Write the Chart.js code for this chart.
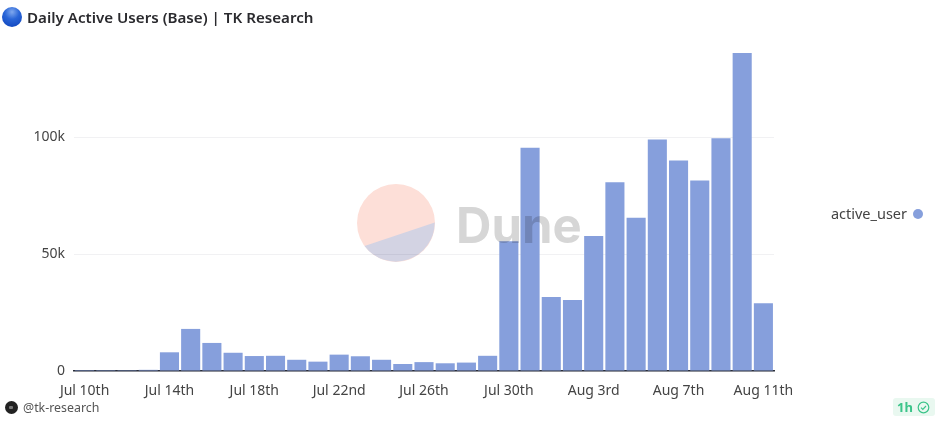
<!DOCTYPE html>
<html>
<head>
<meta charset="utf-8">
<script src="https://cdn.jsdelivr.net/npm/chart.js@4"></script>
<style>
  html,body{ margin:0; padding:0; background:#fff; }
  body{ width:942px; height:421px; overflow:hidden; position:relative; font-family:'Noto Sans',sans-serif; color:#333; }
  #wrap{ position:absolute; left:0; top:0; width:942px; height:421px; }
  #title{ position:absolute; left:27px; top:7px; font-size:15.15px; font-weight:600; color:#2a2a2e; white-space:nowrap; }
  #globe{ position:absolute; left:2px; top:7px; width:20px; height:20px; border-radius:50%;
    background:radial-gradient(circle at 50% 25%, #7fa8ee 0%, #2a66d8 40%, #0a3fb8 100%); }
  #legend{ position:absolute; right:35px; top:203px; font-size:14.5px; color:#444; white-space:nowrap; }
  #legend i{ position:absolute; right:-16px; top:6px; width:10px; height:10px; border-radius:50%; background:#869fdc; }
  #footer{ position:absolute; left:23px; top:399px; font-size:12.4px; color:#555; }
  #avatar{ position:absolute; left:5px; top:401px; width:13px; height:13px; border-radius:50%; background:#222; }
  #avatar:after{ content:''; position:absolute; left:4px; top:5px; width:4px; height:3px; background:#777; border-radius:1px; }
  #badge{ position:absolute; left:893px; top:398px; width:42px; height:18px; border-radius:3px; background:#e9f8f0;
    color:#3cc48a; font-size:13px; font-weight:700; line-height:18px; padding-left:4px; box-sizing:border-box; }
  #badge svg{ position:absolute; left:24px; top:3px; }
  #mark{ position:absolute; left:0; top:0; width:942px; height:421px; pointer-events:none; mix-blend-mode:multiply; }
</style>
</head>
<body>
<div id="wrap"><canvas id="barChart"></canvas></div>
<div id="globe"></div>
<div id="title">Daily Active Users (Base) | TK Research</div>
<div id="legend"></div>
<div id="avatar"></div>
<div id="footer">@tk-research</div>
<div id="badge">1h<svg width="13" height="13" viewBox="0 0 13 13"><circle cx="6.5" cy="6.5" r="5.3" fill="none" stroke="#3cc48a" stroke-width="1.2"/><path d="M4 6.6l1.8 1.8L9 5" fill="none" stroke="#3cc48a" stroke-width="1.2"/></svg></div>
<svg id="mark" viewBox="0 0 942 421">
  <circle cx="396" cy="223" r="39" fill="#fddfd8"/>
  <path d="M364.5 246 L434.7 222.5 A39 39 0 0 1 364.5 246 Z" fill="#d3d3e3"/>
  <text x="456" y="243" font-family="Inter,'Open Sans',sans-serif" font-weight="700" font-size="49" fill="#d6d6d6">Dune</text>
</svg>
<script>
const categories = ['Jul 10th','Jul 11th','Jul 12th','Jul 13th','Jul 14th','Jul 15th','Jul 16th','Jul 17th','Jul 18th','Jul 19th','Jul 20th','Jul 21st','Jul 22nd','Jul 23rd','Jul 24th','Jul 25th','Jul 26th','Jul 27th','Jul 28th','Jul 29th','Jul 30th','Jul 31st','Aug 1st','Aug 2nd','Aug 3rd','Aug 4th','Aug 5th','Aug 6th','Aug 7th','Aug 8th','Aug 9th','Aug 10th','Aug 11th'];
const activeUser = [30,40,60,500,8000,18000,12000,7800,6400,6500,4800,4000,7000,6300,4800,3000,3800,3300,3600,6500,55500,95500,31600,30400,57700,80700,65500,99000,90000,81500,99500,136000,29000];
const yTicks = [0,50000,100000];
const seriesName = 'active_user';

document.getElementById('legend').innerHTML = seriesName + '<i></i>';

const tickFont = { family:"'Noto Sans',sans-serif", size:14 };

new Chart(document.getElementById('barChart'), {
  type: 'bar',
  data: {
    labels: categories,
    datasets: [{
      label: seriesName,
      data: activeUser,
      backgroundColor:'#869fdc',
      borderWidth:0,
      barPercentage:.9,
      categoryPercentage:1
    }]
  },
  options: {
    responsive:true,
    maintainAspectRatio:false,
    animation:false,
    layout:{ padding:{ top:53, right:168, left:0, bottom:0 } },
    plugins:{ legend:{ display:false }, tooltip:{ enabled:false } },
    scales:{
      x:{
        afterFit: s => { s.height = 50; },
        grid:{ display:false },
        border:{ color:'#2b2f3a', width:1.5 },
        ticks:{
          color:'#444',
          font:tickFont,
          autoSkip:false,
          maxRotation:0,
          padding:4,
          callback:(v,i)=> i % 4 === 0 ? categories[i] : ''
        }
      },
      y:{
        min:0,
        max:136000,
        afterFit: s => { s.width = 74; },
        afterBuildTicks: s => { s.ticks = yTicks.map(v => ({ value:v })); },
        grid:{ color:'#f1f1f3', drawTicks:false },
        border:{ display:false },
        ticks:{
          color:'#444',
          font:tickFont,
          padding:9,
          callback:v => v === 0 ? '0' : (v/1000)+'k'
        }
      }
    }
  }
});
</script>
</body>
</html>
